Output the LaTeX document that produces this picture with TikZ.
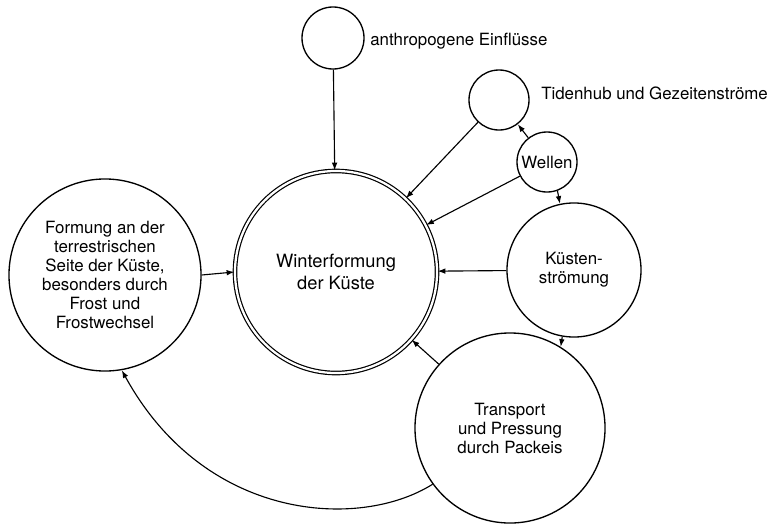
\documentclass[tikz,border=0pt]{standalone}
\usepackage{fontspec}
\setmainfont{TeX Gyre Heros}
\usetikzlibrary{arrows.meta}
\begin{document}
\begin{tikzpicture}[x=0.025cm, y=-0.025cm]
		\tikzset{kreis/.style={circle, draw=black, line width=0.95pt, inner sep=0pt, align=center, font=\fontsize{12}{13.5}\selectfont},
		doppelkreis/.style={kreis, double, line width=0.85pt, double distance=1.6pt, font=\fontsize{13}{16}\selectfont},
		beschriftung/.style={anchor=west, inner sep=0pt, font=\fontsize{12}{14}\selectfont},
		pfeil/.style={line width=0.8pt, -{Latex[length=5.5pt,width=4pt]}}}
		\useasboundingbox (0,0) rectangle (774,526);

        \node[doppelkreis, minimum size=5.05cm] at (336, 272) (wk) {Winterformung\\der Küste};
        \node[kreis, minimum size=1.55cm] at (333, 38) (an) {};
        \node[kreis, minimum size=1.5cm] at (499, 100) (ti) {};
        \node[kreis, minimum size=1.5cm] at (547, 162) (we) {Wellen};
        \node[kreis, minimum size=3.35cm] at (574, 270) (ks) {Küsten-\\strömung};
        \node[kreis, minimum size=4.75cm] at (510, 428) (tr) {Transport\\und Pressung\\durch Packeis};
        \node[kreis, minimum size=4.8cm] at (105, 275) (fo) {Formung an der\\terrestrischen\\Seite der Küste,\\besonders durch\\Frost und\\Frostwechsel};

        \node[beschriftung] at (370, 41) (anl) {anthropogene Einflüsse};
        \node[beschriftung] at (541, 93) (til) {Tidenhub und Gezeitenströme};

			\draw[pfeil] (an) -- (wk);
			\draw[pfeil] (ti) -- (wk);
			\draw[pfeil] (we) -- (wk);
			\draw[pfeil] (we) -- (ti);
			\draw[pfeil] (we.-70) -- (ks.102);
			\draw[pfeil] (ks) -- (wk);
			\draw[pfeil] (ks.-100) -- (tr.58);
			\draw[pfeil] (tr) -- (wk);
			\draw[pfeil] (fo.east) -- (wk.west);

			% Packeis zurueck zur Landseite
			\draw[pfeil] (tr.216) .. controls (360, 530) and (205, 522) .. (fo.-80);

	\end{tikzpicture}
\end{document}
